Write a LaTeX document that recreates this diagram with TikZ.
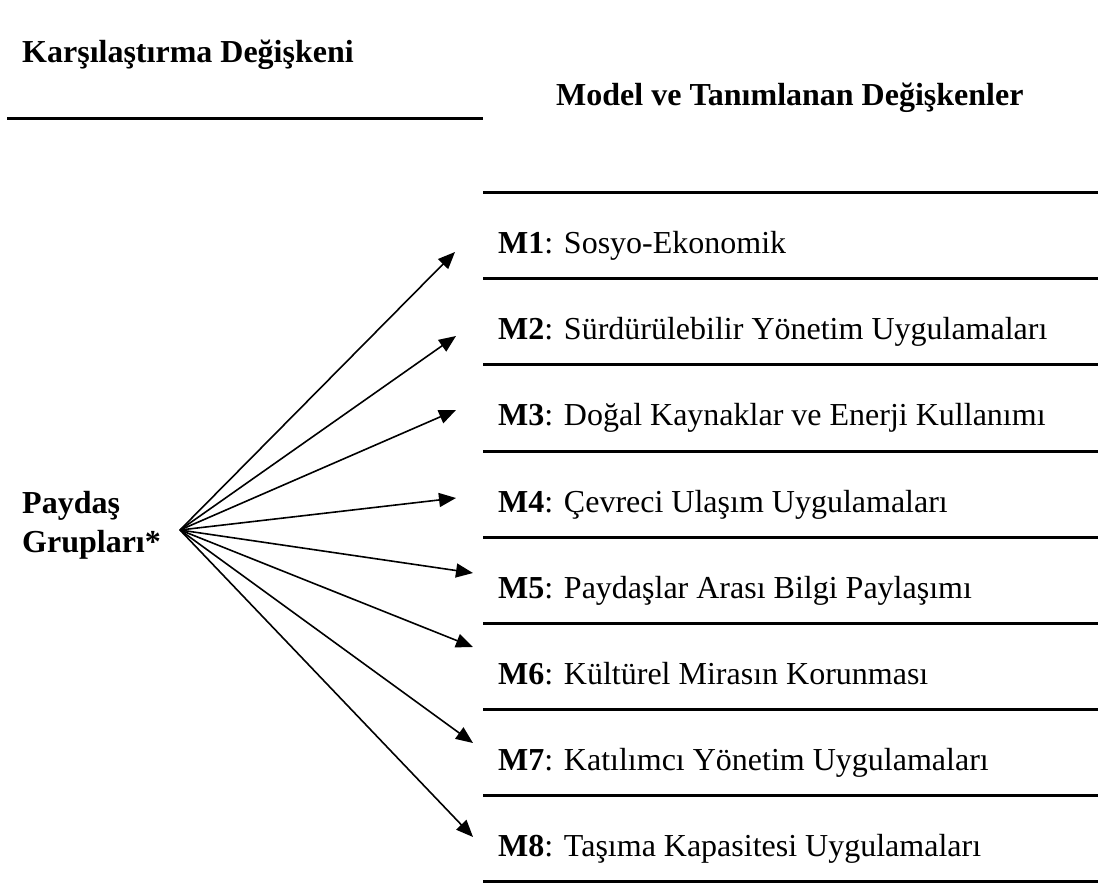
\documentclass[tikz,border=0pt]{standalone}
\usepackage{fontspec}
\setmainfont{Liberation Serif}
\usetikzlibrary{arrows.meta}
\begin{document}
\begin{tikzpicture}[x=1pt,y=-1pt,
  lbl/.style={anchor=base west,inner sep=0pt,font=\fontsize{32}{38}\selectfont},
  bl/.style={lbl,font=\fontsize{32}{38}\selectfont\bfseries},
  rule/.style={line width=3pt},
  arr/.style={line width=1.6pt,-{Triangle[length=17pt,width=14pt]}}]
\useasboundingbox (0,0) rectangle (1120,884);
% headers
\node[bl] (hl) at (22,62) {Karşılaştırma Değişkeni};
\node[bl] (hr) at (556,105) {Model ve Tanımlanan Değişkenler};
% rules
\coordinate (l0a) at (7,118);
\coordinate (l0b) at (483,118);
\draw[rule] (l0a) -- (l0b);
\foreach \i/\y in {0/192,1/278,2/364,3/451,4/537,5/623,6/709,7/795,8/881}{
  \coordinate (ra\i) at (483,\y);
  \coordinate (rb\i) at (1098,\y);
  \draw[rule] (ra\i) -- (rb\i);
}
% left label
\node[bl] (p1) at (22,513) {Paydaş};
\node[bl] (p2) at (22,552) {Grupları*};
% model items
\node[lbl] (m1) at (498,253) {\textbf{M1}: Sosyo-Ekonomik};
\node[lbl] (m2) at (498,339) {\textbf{M2}: Sürdürülebilir Yönetim Uygulamaları};
\node[lbl] (m3) at (498,425) {\textbf{M3}: Doğal Kaynaklar ve Enerji Kullanımı};
\node[lbl] (m4) at (498,512) {\textbf{M4}: Çevreci Ulaşım Uygulamaları};
\node[lbl] (m5) at (498,598) {\textbf{M5}: Paydaşlar Arası Bilgi Paylaşımı};
\node[lbl] (m6) at (498,684) {\textbf{M6}: Kültürel Mirasın Korunması};
\node[lbl] (m7) at (498,770) {\textbf{M7}: Katılımcı Yönetim Uygulamaları};
\node[lbl] (m8) at (498,856) {\textbf{M8}: Taşıma Kapasitesi Uygulamaları};
% arrows
\coordinate (src) at (180,530);
\coordinate (t1) at (455,252);
\coordinate (t2) at (456,336);
\coordinate (t3) at (456,410);
\coordinate (t4) at (456,498);
\coordinate (t5) at (473,573);
\coordinate (t6) at (473,647);
\coordinate (t7) at (473,743);
\coordinate (t8) at (473,837);
\foreach \t in {t1,t2,t3,t4,t5,t6,t7,t8}{\draw[arr] (src) -- (\t);}
\end{tikzpicture}
\end{document}
